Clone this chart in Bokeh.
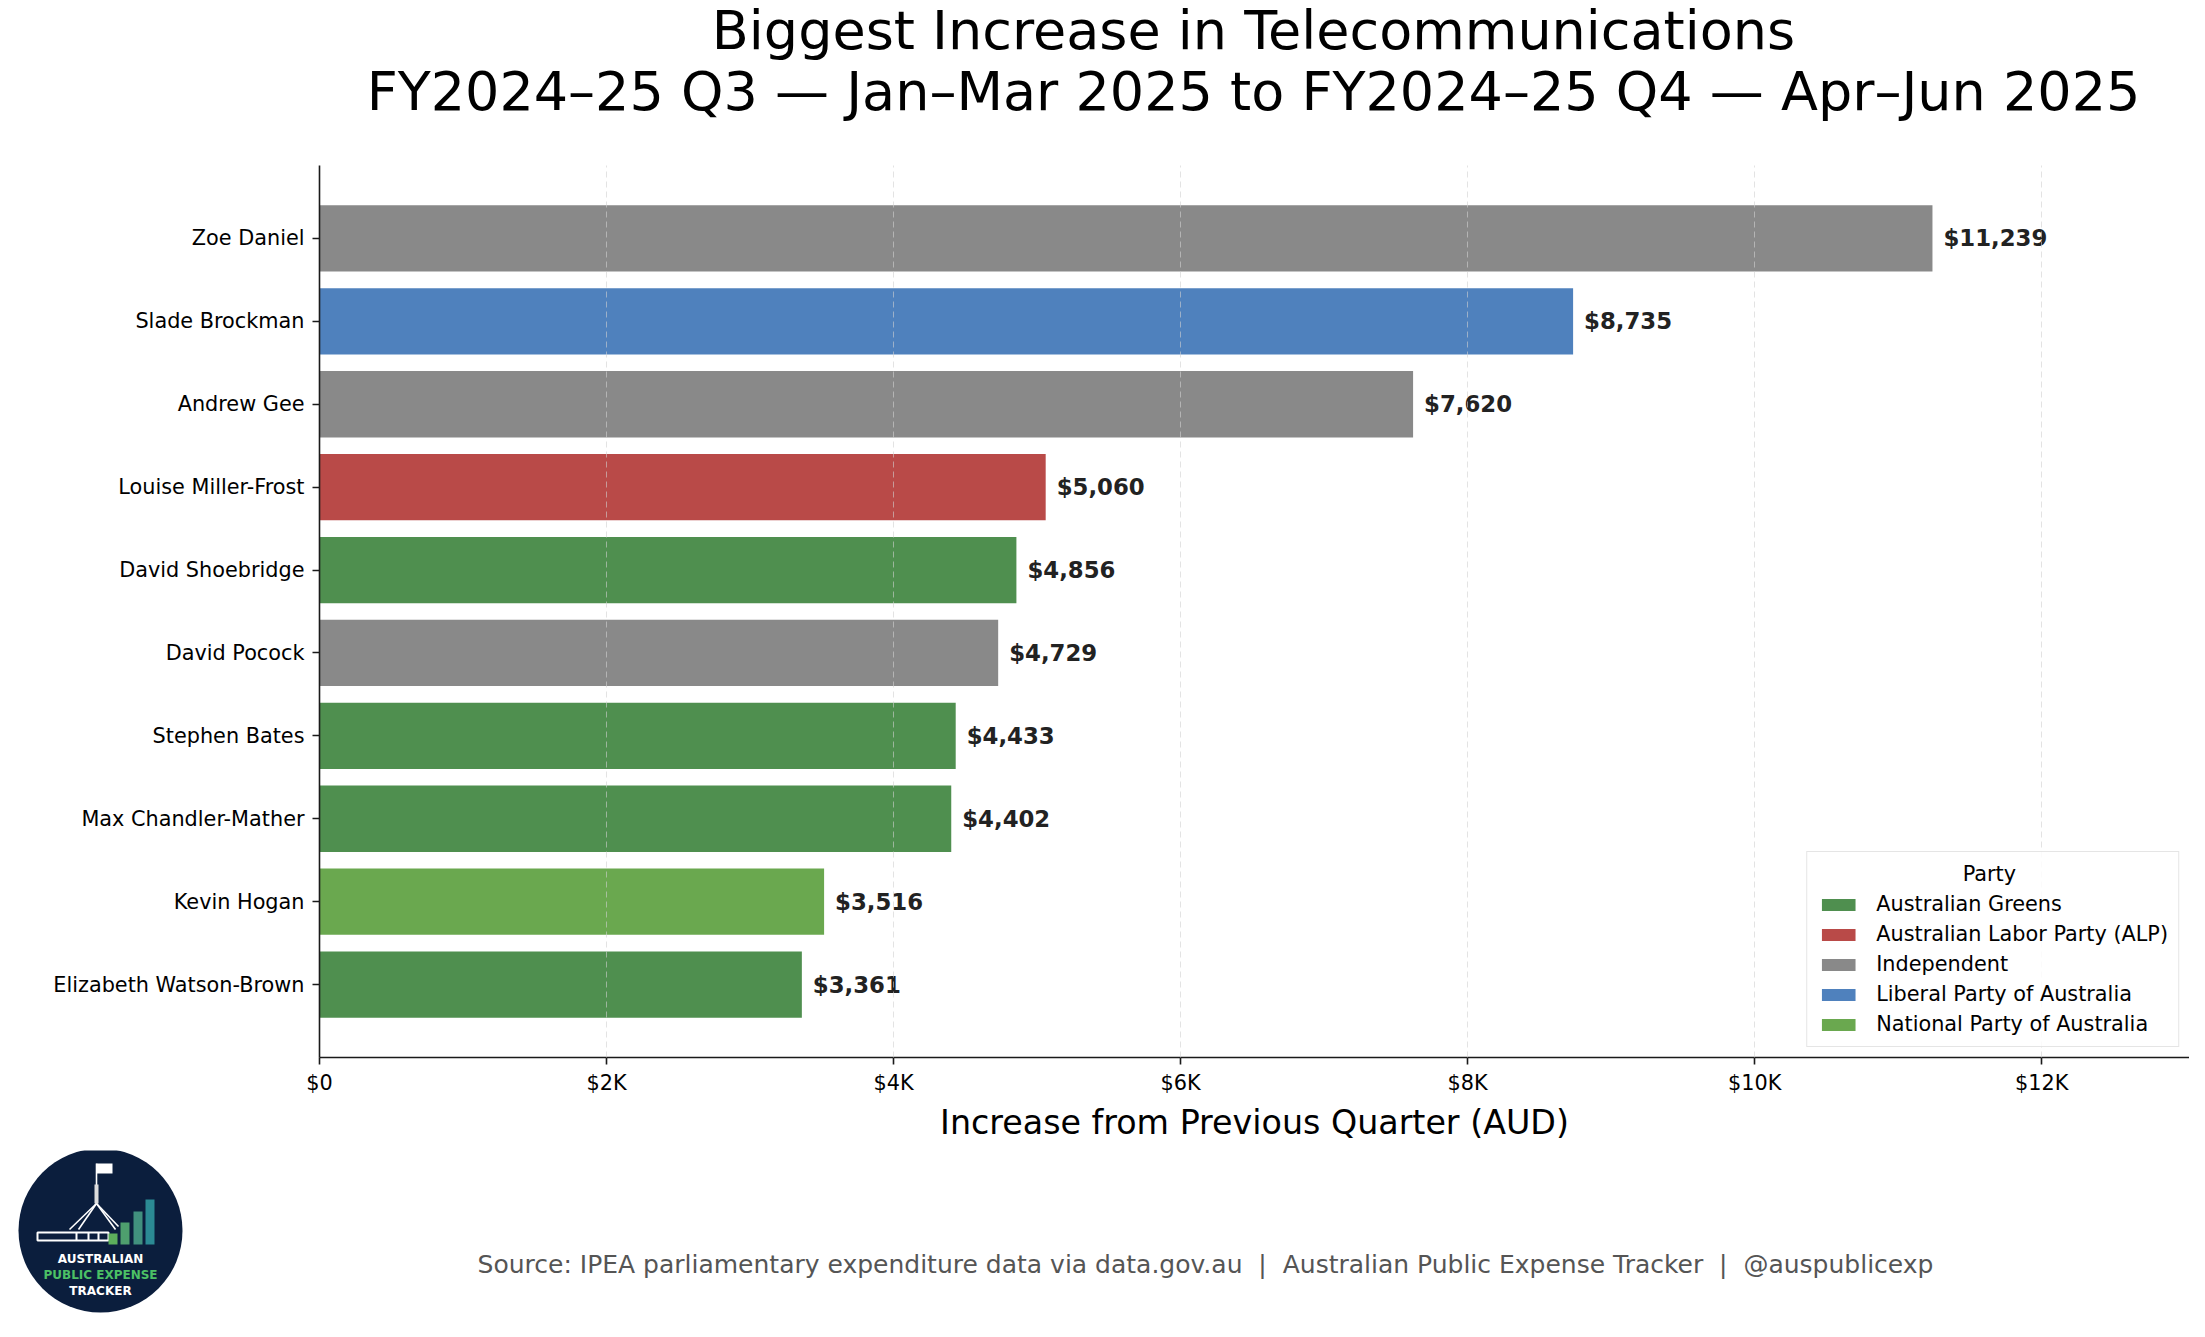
from bokeh.plotting import figure
from bokeh.models import ColumnDataSource, CDSView, GroupFilter, FactorRange, Range1d, FixedTicker
from bokeh.layouts import column, row
from bokeh.core.properties import value
from bokeh.embed import file_html
from bokeh.resources import INLINE

FONT = "DejaVu Sans"

# data
names = ["Zoe Daniel", "Slade Brockman", "Andrew Gee", "Louise Miller-Frost", "David Shoebridge",
         "David Pocock", "Stephen Bates", "Max Chandler-Mather", "Kevin Hogan", "Elizabeth Watson-Brown"]
increase = [11239, 8735, 7620, 5060, 4856, 4729, 4433, 4402, 3516, 3361]
party = ["Independent", "Liberal Party of Australia", "Independent", "Australian Labor Party (ALP)",
         "Australian Greens", "Independent", "Australian Greens", "Australian Greens",
         "National Party of Australia", "Australian Greens"]

parties = ["Australian Greens", "Australian Labor Party (ALP)", "Independent",
           "Liberal Party of Australia", "National Party of Australia"]
party_colors = ["#4f8f4f", "#b94a48", "#898989", "#4f81bd", "#6aa84f"]

x_ticks = [0, 2000, 4000, 6000, 8000, 10000, 12000]
x_tick_labels = ["$0", "$2K", "$4K", "$6K", "$8K", "$10K", "$12K"]

title_lines = ["Biggest Increase in Telecommunications",
               "FY2024\u201325 Q3 \u2014 Jan\u2013Mar 2025 to FY2024\u201325 Q4 \u2014 Apr\u2013Jun 2025"]
# nbsp keeps the double spaces round the bars (svg collapses plain runs of spaces)
footer = ("Source: IPEA parliamentary expenditure data via data.gov.au \u00a0|\u00a0 "
          "Australian Public Expense Tracker \u00a0|\u00a0 @auspublicexp")

W = 2189
LEFT = 319
RIGHT = 0
TOP_H = 149

source = ColumnDataSource(dict(
    name=names, increase=increase, party=party,
    label=["${:,}".format(v) for v in increase],
))

# --- title strip (x, y in figure pixels)
tf = figure(width=W, height=TOP_H, x_range=Range1d(0, W), y_range=Range1d(TOP_H, 0),
            x_axis_type=None, y_axis_type=None, min_border=0, outline_line_color=None,
            output_backend="svg", toolbar_location=None)
tf.text(x=[1253, 1253], y=[30, 91], text=title_lines, text_align="center", text_baseline="middle",
        text_font=value(FONT), text_font_size="54px", text_color="#000000")

# --- main bar chart
p = figure(width=W, height=1001,
           y_range=FactorRange(factors=names[::-1], range_padding=0.38, range_padding_units="absolute"),
           x_range=Range1d(0, 13030),
           min_border_left=LEFT, min_border_right=RIGHT, min_border_top=16, min_border_bottom=93,
           output_backend="svg", toolbar_location=None)

for pname, col in zip(parties, party_colors):
    view = CDSView(filter=GroupFilter(column_name="party", group=pname))
    p.hbar(y="name", left=0, right="increase", height=0.8, source=source, view=view,
           fill_color=col, line_color=None, legend_label=pname)

p.text(x="increase", y="name", text="label", source=source, x_offset=11,
       text_align="left", text_baseline="middle", text_font=value(FONT),
       text_font_style="bold", text_font_size="22.8px", text_color="#222222")

p.outline_line_color = None
p.ygrid.grid_line_color = None
p.xgrid.ticker = FixedTicker(ticks=x_ticks)
p.xgrid.grid_line_color = "#d0d0d0"
p.xgrid.grid_line_alpha = 0.6
p.xgrid.grid_line_dash = "6 4"
p.xgrid.level = "annotation"

p.xaxis.ticker = FixedTicker(ticks=x_ticks)
p.xaxis.major_label_overrides = dict(zip(x_ticks, x_tick_labels))
p.xaxis.axis_label = "Increase from Previous Quarter (AUD)"
p.xaxis.axis_label_text_font = FONT
p.xaxis.axis_label_text_font_size = "33.3px"
p.xaxis.axis_label_text_font_style = "normal"
p.xaxis.axis_label_text_color = "#000000"
p.xaxis.axis_label_standoff = 5
p.xaxis.minor_tick_line_color = None

for ax in (p.xaxis, p.yaxis):
    ax.axis_line_color = "#1a1a1a"
    ax.axis_line_width = 1.6
    ax.major_tick_line_color = "#1a1a1a"
    ax.major_tick_line_width = 1.6
    ax.major_tick_out = 7
    ax.major_tick_in = 0
    ax.major_label_text_font = FONT
    ax.major_label_text_font_size = "20.8px"
    ax.major_label_text_color = "#000000"
p.xaxis.major_label_standoff = 6
p.yaxis.major_label_standoff = 8

leg = p.legend[0]
# leading nbsp centre the title over the entries, as in the original
leg.title = "\u00a0" * 22 + "Party"
leg.title_text_font = FONT
leg.title_text_font_size = "20.8px"
leg.title_text_font_style = "normal"
leg.title_text_color = "#000000"
leg.title_standoff = 6
leg.location = "bottom_right"
leg.margin = 10
leg.padding = 10
leg.label_text_font = FONT
leg.label_text_font_size = "20.8px"
leg.label_text_color = "#000000"
leg.label_standoff = 17
leg.label_height = 24
leg.glyph_width = 42
leg.glyph_height = 15
leg.spacing = 6
leg.border_line_color = "#cccccc"
leg.border_line_width = 1.5
leg.background_fill_alpha = 0.85

# --- bottom strip: logo + source line (x, y in figure pixels)
BH = 170
bf = figure(width=W, height=BH, x_range=Range1d(0, W), y_range=Range1d(BH, 0),
            x_axis_type=None, y_axis_type=None, min_border=0, outline_line_color=None,
            output_backend="svg", toolbar_location=None)

# logo (decoration)
cx, cy = 100, 80
bf.circle(x=[cx], y=[cy], radius=82, fill_color="#0b1e3d", line_color=None)
bf.quad(left=[cx - 63], right=[cx + 8], top=[cy + 2], bottom=[cy + 10],
        fill_color="#0b1e3d", line_color="white", line_width=2)
bf.segment(x0=[cx - 24, cx - 12, cx - 2], y0=[cy + 2] * 3, x1=[cx - 24, cx - 12, cx - 2], y1=[cy + 10] * 3,
           line_color="white", line_width=2)
bf.segment(x0=[cx - 4] * 5, y0=[cy - 67, cy - 27, cy - 27, cy - 27, cy - 27],
           x1=[cx - 4, cx - 31, cx - 22, cx + 15, cx + 18], y1=[cy - 27, cy - 1, cy - 1, cy - 1, cy - 4],
           line_color="white", line_width=1.6)
bf.quad(left=[cx - 6], right=[cx - 2], top=[cy - 46], bottom=[cy - 27], fill_color="#dddddd", line_color=None)
bf.quad(left=[cx - 4], right=[cx + 12], top=[cy - 67], bottom=[cy - 57], fill_color="white", line_color=None)
bf.quad(left=[cx + 8, cx + 20, cx + 33, cx + 45], right=[cx + 17, cx + 29, cx + 42, cx + 54],
        top=[cy + 3, cy - 8, cy - 19, cy - 31], bottom=[cy + 14] * 4,
        fill_color=["#5cae5c", "#4e9f6e", "#41907e", "#2b8a94"], line_color=None)
bf.text(x=[cx] * 3, y=[cy + 28, cy + 44, cy + 60], text=["AUSTRALIAN", "PUBLIC EXPENSE", "TRACKER"],
        text_align="center", text_baseline="middle", text_font=value(FONT), text_font_style="bold",
        text_font_size="12px", text_color=["white", "#4cc065", "white"])

bf.text(x=[1205], y=[114], text=[footer], text_align="center", text_baseline="middle",
        text_font=value(FONT), text_font_size="25px", text_color="#555555")

layout = column(row(tf), p, row(bf))
open("out.html", "w").write(file_html(layout, INLINE))
